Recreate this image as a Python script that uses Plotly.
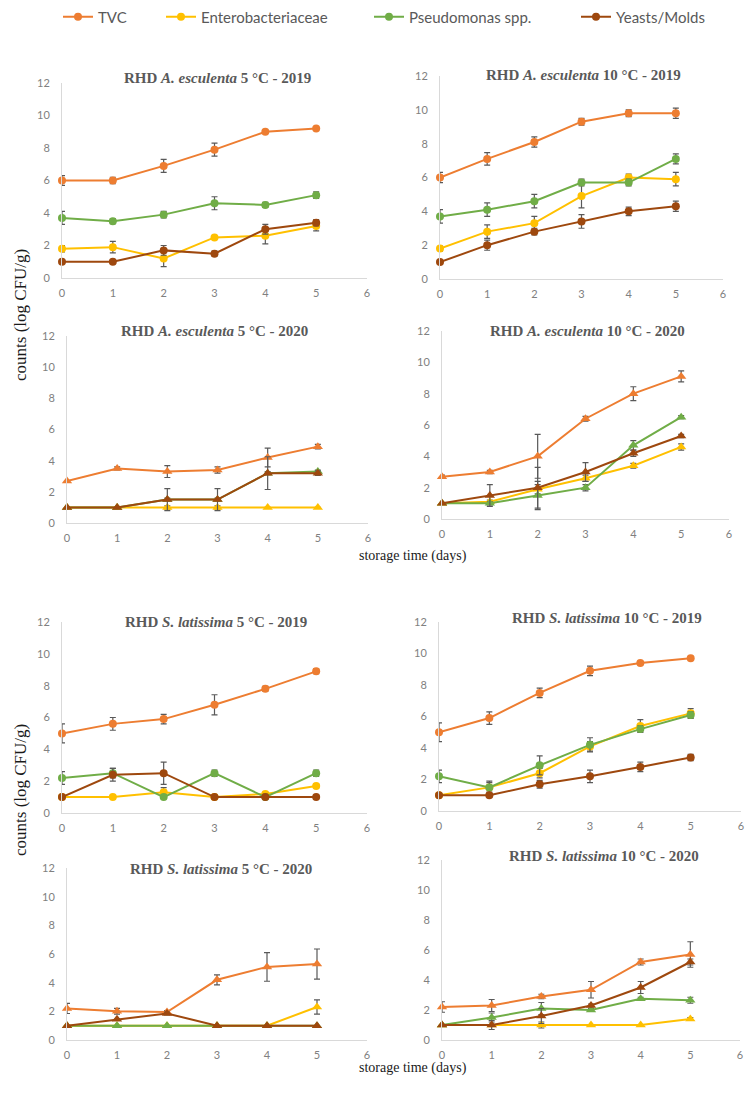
import plotly.graph_objects as go

days = [0, 1, 2, 3, 4, 5]
names = ["TVC", "Enterobacteriaceae", "Pseudomonas spp.", "Yeasts/Molds"]
colors = ["#ED7D31", "#FFC000", "#70AD47", "#9E480E"]

# order in every panel: TVC, Enterobacteriaceae, Pseudomonas, Yeasts/Molds
ae_5_2019 = [[6.0, 6.0, 6.9, 7.9, 9.0, 9.2], [1.8, 1.9, 1.2, 2.5, 2.6, 3.2],
             [3.7, 3.5, 3.9, 4.6, 4.5, 5.1], [1.0, 1.0, 1.7, 1.5, 3.0, 3.4]]
ae_5_2019_err = [[0.3, 0.2, 0.4, 0.4, 0.05, 0.05], [0.2, 0.35, 0.5, 0.05, 0.5, 0.3],
                 [0.4, 0.15, 0.2, 0.4, 0.15, 0.2], [0, 0.05, 0.3, 0.15, 0.3, 0.2]]

ae_10_2019 = [[6.0, 7.1, 8.1, 9.3, 9.8, 9.8], [1.8, 2.8, 3.3, 4.9, 6.0, 5.9],
              [3.7, 4.1, 4.6, 5.7, 5.7, 7.1], [1.0, 2.0, 2.8, 3.4, 4.0, 4.3]]
ae_10_2019_err = [[0.3, 0.37, 0.3, 0.2, 0.2, 0.3], [0.15, 0.4, 0.4, 0.7, 0.2, 0.4],
                  [0.4, 0.4, 0.4, 0.2, 0.2, 0.3], [0, 0.3, 0.2, 0.4, 0.25, 0.3]]

ae_5_2020 = [[2.7, 3.5, 3.3, 3.4, 4.2, 4.9], [1, 1, 1, 1, 1, 1],
             [1, 1, 1.5, 1.5, 3.2, 3.3], [1, 1, 1.5, 1.5, 3.2, 3.2]]
ae_5_2020_err = [[0, 0.1, 0.38, 0.2, 0.6, 0.15], [0, 0, 0.1, 0.1, 0, 0],
                 [0, 0, 0.1, 0.1, 0.1, 0.1], [0, 0, 0.7, 0.7, 1.05, 0.15]]

ae_10_2020 = [[2.7, 3.0, 4.0, 6.4, 8.0, 9.1], [1, 1.1, 1.9, 2.6, 3.4, 4.6],
              [1, 1, 1.5, 2.0, 4.7, 6.5], [1, 1.5, 2.0, 3.0, 4.2, 5.3]]
ae_10_2020_err = [[0.1, 0.1, 1.4, 0.15, 0.44, 0.35], [0, 0.1, 0.3, 0.2, 0.15, 0.2],
                  [0, 0.1, 0.9, 0.2, 0.3, 0.1], [0, 0.7, 1.3, 0.6, 0.2, 0.1]]

sl_5_2019 = [[5.0, 5.6, 5.9, 6.8, 7.8, 8.9], [1, 1, 1.3, 1, 1.2, 1.7],
             [2.2, 2.5, 1.0, 2.5, 1.0, 2.5], [1, 2.4, 2.5, 1, 1, 1]]
sl_5_2019_err = [[0.6, 0.4, 0.3, 0.63, 0.15, 0.15], [0, 0, 0.3, 0, 0.1, 0.1],
                 [0.4, 0.3, 0, 0.2, 0, 0.2], [0, 0.4, 0.7, 0, 0, 0]]

sl_10_2019 = [[5.0, 5.9, 7.5, 8.9, 9.4, 9.7], [1, 1.5, 2.4, 4.1, 5.4, 6.2],
              [2.2, 1.5, 2.9, 4.2, 5.2, 6.1], [1, 1, 1.7, 2.2, 2.8, 3.4]]
sl_10_2019_err = [[0.6, 0.4, 0.3, 0.3, 0.05, 0.05], [0, 0.3, 0.3, 0.3, 0.4, 0.3],
                  [0.4, 0.4, 0.6, 0.45, 0.2, 0.2], [0, 0.1, 0.25, 0.4, 0.3, 0.2]]

sl_5_2020 = [[2.2, 2.0, 1.95, 4.2, 5.1, 5.3], [1, 1, 1, 1, 1, 2.3],
             [1, 1, 1, 1, 1, 1], [1, 1.45, 1.85, 1, 1, 1]]
sl_5_2020_err = [[0.35, 0.2, 0.1, 0.35, 1.0, 1.05], [0, 0, 0, 0, 0, 0.5],
                 [0, 0, 0, 0, 0, 0], [0, 0, 0.1, 0, 0, 0]]

sl_10_2020 = [[2.2, 2.3, 2.9, 3.35, 5.2, 5.7], [1, 1, 1, 1, 1, 1.4],
              [1, 1.5, 2.1, 2.0, 2.75, 2.65], [1, 1, 1.6, 2.3, 3.5, 5.2]]
sl_10_2020_err = [[0.35, 0.4, 0.15, 0.55, 0.2, 0.85], [0, 0, 0.2, 0, 0, 0.1],
                  [0, 0.3, 0.4, 0.1, 0.1, 0.2], [0, 0.3, 0.5, 0.1, 0.4, 0.2]]

panels = [
    ("RHD <i>A. esculenta</i> 5 °C - 2019", ae_5_2019, ae_5_2019_err, "circle"),
    ("RHD <i>A. esculenta</i> 10 °C - 2019", ae_10_2019, ae_10_2019_err, "circle"),
    ("RHD <i>A. esculenta</i> 5 °C - 2020", ae_5_2020, ae_5_2020_err, "triangle-up"),
    ("RHD <i>A. esculenta</i> 10 °C - 2020", ae_10_2020, ae_10_2020_err, "triangle-up"),
    ("RHD <i>S. latissima</i> 5 °C - 2019", sl_5_2019, sl_5_2019_err, "circle"),
    ("RHD <i>S. latissima</i> 10 °C - 2019", sl_10_2019, sl_10_2019_err, "circle"),
    ("RHD <i>S. latissima</i> 5 °C - 2020", sl_5_2020, sl_5_2020_err, "triangle-up"),
    ("RHD <i>S. latissima</i> 10 °C - 2020", sl_10_2020, sl_10_2020_err, "triangle-up"),
]

# pixel boxes of each plot area: left, right, top (12), bottom (0)
boxes = [(62, 367, 83, 278), (440, 723, 76, 279),
         (67, 368, 336, 523), (442, 729, 331, 519),
         (62, 367, 622, 813), (439, 741, 622, 811),
         (67, 367, 868, 1040), (442, 740, 860, 1040)]
title_pos = [(217, 78), (583, 75), (215, 331), (587, 331),
             (216, 622), (607, 618), (221, 869), (604, 856)]
legend_x = [58, 161, 369, 576]

W, H, OFF = 740, 1081, 8


def px(x):
    return (x - OFF) / W


def py(y):
    return 1 - (y - OFF) / H


fig = go.Figure()
layout = {}
annotations = []
for i, (title, vals, errs, sym) in enumerate(panels):
    n = i + 1
    xa = "x" if n == 1 else f"x{n}"
    ya = "y" if n == 1 else f"y{n}"
    for k in range(4):
        fig.add_trace(go.Scatter(
            x=days, y=vals[k], name=names[k], mode="lines+markers",
            xaxis=xa, yaxis=ya, cliponaxis=False,
            legend="legend" if k == 0 else f"legend{k + 1}",
            line=dict(color=colors[k], width=2),
            marker=dict(color=colors[k], size=8 if sym == "circle" else 9, symbol=sym),
            error_y=dict(type="data", array=errs[k], color="#595959",
                         thickness=1.2, width=3),
            showlegend=(n == 1),
        ))
    l, r, t, b = boxes[i]
    layout[f"xaxis{n}"] = dict(
        domain=[px(l), px(r)], anchor=ya, range=[0, 6], dtick=1,
        showline=True, linecolor="#d9d9d9", linewidth=1, showgrid=False,
        zeroline=False, ticks="outside", ticklen=5, tickcolor="rgba(0,0,0,0)",
        tickfont=dict(family="Lato", size=11, color="#808080"))
    layout[f"yaxis{n}"] = dict(
        domain=[py(b), py(t)], anchor=xa, range=[0, 12], dtick=2,
        showline=True, linecolor="#d9d9d9", linewidth=1, showgrid=False,
        zeroline=False, ticks="outside", ticklen=9, tickcolor="rgba(0,0,0,0)",
        tickfont=dict(family="Lato", size=11, color="#808080"))
    tx, ty = title_pos[i]
    annotations.append(dict(
        text=f"<b>{title}</b>", x=px(tx), y=py(ty), xref="paper", yref="paper",
        showarrow=False, xanchor="center", yanchor="middle",
        font=dict(family="Liberation Serif", size=15, color="#595959")))

for yc in (315, 790):
    annotations.append(dict(
        text="counts (log CFU/g)", x=px(20), y=py(yc), xref="paper", yref="paper",
        showarrow=False, textangle=-90, xanchor="center", yanchor="middle",
        font=dict(family="Liberation Serif", size=17, color="#1a1a1a")))
for yc in (556, 1068):
    annotations.append(dict(
        text="storage time (days)", x=px(413), y=py(yc), xref="paper", yref="paper",
        showarrow=False, xanchor="center", yanchor="middle",
        font=dict(family="Liberation Serif", size=14, color="#1a1a1a")))

for k in range(4):
    key = "legend" if k == 0 else f"legend{k + 1}"
    layout[key] = dict(orientation="h", x=px(legend_x[k]), y=py(17),
                       xanchor="left", yanchor="middle", bgcolor="rgba(0,0,0,0)",
                       font=dict(family="Lato", size=15, color="#595959"))

fig.update_layout(
    width=W, height=H, margin=dict(l=0, r=0, t=0, b=0, autoexpand=False),
    plot_bgcolor="white", paper_bgcolor="white",
    annotations=annotations,
    **layout,
)

fig.write_html("out.html")
